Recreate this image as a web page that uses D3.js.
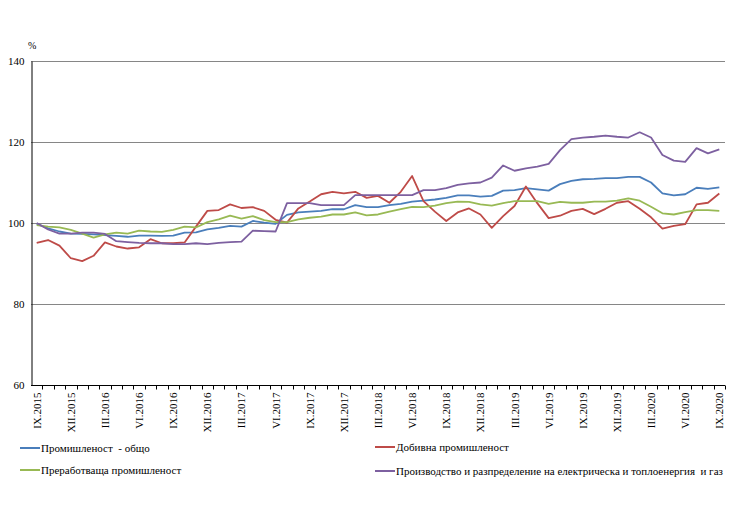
<!DOCTYPE html>
<html>
<head>
<meta charset="utf-8">
<script src="https://cdn.jsdelivr.net/npm/d3@7"></script>
<style>
  body { margin: 0; background: #fff; }
  svg { font-family: "Liberation Serif", "Times New Roman", serif; }
  .grid line { stroke: #868686; stroke-width: 1; }
  .series { fill: none; stroke-width: 1.8; stroke-linejoin: round; }
</style>
</head>
<body>
<script>
const ROMAN = ['I', 'II', 'III', 'IV', 'V', 'VI', 'VII', 'VIII', 'IX', 'X', 'XI', 'XII'];

// months IX.2015 .. IX.2020
let months = [];
for (let y = 2015; y <= 2020; y++) {
  for (let m = 0; m < 12; m++) {
    if ((y === 2015 && m < 8) || (y === 2020 && m > 8)) continue;
    months.push(ROMAN[m] + '.' + y);
  }
}

const yTicks = [60, 80, 100, 120, 140];

const total = [99.8, 98.7, 97.9, 97.4, 97.3, 97.2, 97.0, 96.8, 96.6, 96.9, 96.9, 96.8, 96.9, 97.6, 97.7, 98.4,
  98.8, 99.3, 99.1, 100.5, 100.1, 99.8, 102.0, 102.6, 102.8, 103.0, 103.4, 103.4, 104.4, 103.9, 103.9,
  104.4, 104.7, 105.3, 105.5, 105.8, 106.2, 106.8, 106.8, 106.5, 106.7, 108.0, 108.1, 108.6, 108.3,
  108.0, 109.6, 110.4, 110.8, 110.9, 111.1, 111.1, 111.4, 111.4, 110.0, 107.3, 106.8, 107.1, 108.7,
  108.4, 108.8];

const mining = [95.1, 95.8, 94.4, 91.3, 90.6, 91.9, 95.2, 94.2, 93.7, 94.0, 96.0, 95.0, 95.0, 95.2, 99.1, 103.0,
  103.2, 104.6, 103.7, 103.9, 103.0, 100.8, 100.1, 103.6, 105.3, 107.1, 107.7, 107.3, 107.7, 106.2,
  106.7, 105.0, 107.7, 111.6, 105.4, 102.8, 100.5, 102.6, 103.6, 102.1, 98.8, 101.7, 104.2, 109.0,
  104.9, 101.2, 101.8, 103.0, 103.5, 102.2, 103.5, 105.0, 105.4, 103.5, 101.4, 98.6, 99.3, 99.7,
  104.6, 105.0, 107.3];

const manufacturing = [99.5, 99.1, 98.9, 98.3, 97.4, 96.4, 97.2, 97.6, 97.4, 98.1, 97.9, 97.8, 98.3, 99.1, 98.9,
  100.2, 100.9, 101.8, 101.1, 101.7, 100.7, 100.2, 100.2, 100.9, 101.3, 101.6, 102.1, 102.1, 102.6,
  101.9, 102.1, 102.8, 103.4, 104.0, 103.9, 104.3, 104.9, 105.3, 105.2, 104.6, 104.3, 104.9, 105.4,
  105.4, 105.4, 104.7, 105.2, 105.0, 105.0, 105.3, 105.3, 105.5, 106.1, 105.5, 104.0, 102.4, 102.1,
  102.7, 103.2, 103.2, 103.0];

const energy = [100.0, 98.4, 97.4, 97.4, 97.6, 97.6, 97.3, 95.5, 95.3, 95.1, 95.0, 95.0, 94.8, 94.8, 95.0, 94.8,
  95.1, 95.3, 95.4, 98.1, 98.0, 97.9, 104.9, 104.9, 104.9, 104.4, 104.4, 104.4, 106.9, 106.9, 106.9,
  106.9, 106.9, 106.9, 108.1, 108.1, 108.6, 109.4, 109.8, 110.0, 111.2, 114.2, 112.9, 113.5, 113.9,
  114.6, 118.0, 120.7, 121.1, 121.3, 121.6, 121.3, 121.1, 122.4, 121.1, 116.8, 115.4, 115.1, 118.5,
  117.2, 118.2];

const seriesNames = ['Промишленост  - общо', 'Добивна промишленост', 'Преработваща промишленост',
  'Производство и разпределение на електрическа и топлоенергия  и газ'];
const seriesValues = [total, mining, manufacturing, energy];
const colors = ['#4a7ebb', '#be4b48', '#98b954', '#7d60a0'];

let width = 740;
let height = 516;
let margin = {left: 31, right: 15, top: 61, bottom: 131};

var svg = d3.select('body').append('svg')
  .attr('width', width)
  .attr('height', height);

var x = d3.scaleBand()
  .domain(months)
  .range([margin.left, width - margin.right]);

var y = d3.scaleLinear()
  .domain([60, 140])
  .range([height - margin.bottom, margin.top]);

// grid
svg.append('g')
  .attr('class', 'grid')
  .selectAll('line')
  .data(yTicks.filter(d => d > 60))
  .enter()
  .append('line')
  .attr('x1', margin.left)
  .attr('x2', width - margin.right)
  .attr('y1', d => Math.round(y(d)) + 0.5)
  .attr('y2', d => Math.round(y(d)) + 0.5);

// y axis
let yAxis = svg.append('g')
  .attr('transform', `translate(${margin.left + 0.5},0)`)
  .call(d3.axisLeft(y).tickValues(yTicks).tickSize(0).tickPadding(7));
yAxis.select('.domain').attr('stroke', '#000');
yAxis.selectAll('text')
  .attr('font-family', '"Liberation Serif", serif')
  .attr('font-size', 11)
  .attr('fill', '#000');

svg.append('text')
  .attr('x', 28)
  .attr('y', 49)
  .attr('font-size', 10)
  .text('%');

// x axis: boundary ticks between every month
let bottom = Math.round(y(60)) + 0.5;
svg.append('line')
  .attr('x1', margin.left)
  .attr('x2', width - margin.right)
  .attr('y1', bottom)
  .attr('y2', bottom)
  .attr('stroke', '#000');

svg.append('g')
  .selectAll('line')
  .data(months)
  .enter()
  .append('line')
  .attr('x1', d => Math.round(x(d) + x.bandwidth()) + 0.5)
  .attr('x2', d => Math.round(x(d) + x.bandwidth()) + 0.5)
  .attr('y1', bottom)
  .attr('y2', bottom + 4)
  .attr('stroke', '#000');

svg.append('g')
  .selectAll('text')
  .data(months.filter((d, i) => i % 3 === 0))
  .enter()
  .append('text')
  .attr('transform', d => `translate(${x(d) + x.bandwidth() / 2 + 4},${bottom + 7}) rotate(-90)`)
  .attr('text-anchor', 'end')
  .attr('font-size', 11)
  .text(d => d);

// lines
let line = d3.line()
  .x((d, i) => x(months[i]) + x.bandwidth() / 2)
  .y(d => y(d));

svg.append('g')
  .selectAll('path')
  .data(seriesValues)
  .enter()
  .append('path')
  .attr('class', 'series')
  .attr('stroke', (d, i) => colors[i])
  .attr('d', d => line(d));

// legend
let legendPos = [[20, 448], [375, 447], [20, 470], [375, 471]];
let legend = svg.append('g')
  .selectAll('g')
  .data(seriesNames)
  .enter()
  .append('g')
  .attr('transform', (d, i) => `translate(${legendPos[i][0]},${legendPos[i][1]})`);

legend.append('line')
  .attr('x1', 0)
  .attr('x2', 20)
  .attr('stroke', (d, i) => colors[i])
  .attr('stroke-width', 2);

legend.append('text')
  .attr('x', 21)
  .attr('y', 4)
  .attr('font-size', 11)
  .attr('xml:space', 'preserve')
  .style('white-space', 'pre')
  .text(d => d);
</script>
</body>
</html>
